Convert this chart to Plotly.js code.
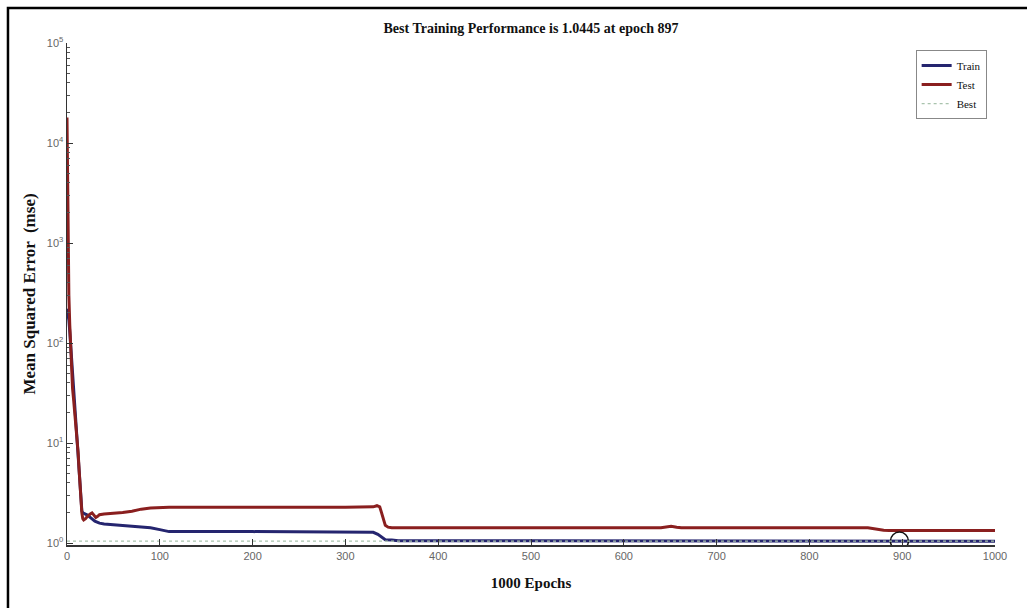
<!DOCTYPE html>
<html>
<head>
<meta charset="utf-8">
<script src="https://cdn.plot.ly/plotly-3.0.1.min.js"></script>
<style>html,body{margin:0;padding:0;background:#fff;}#chart{width:1027px;height:608px;}</style>
</head>
<body>
<div id="chart"></div>
<script>
// Train performance (mse) per epoch
const trainEpochs = [0,1,2,3,4,5,6,7,8,9,10,11,12,13,14,15,16,17,18,20,22,25,28,30,35,40,50,60,70,80,90,100,105,110,200,300,326,330,335,340,343,350,357,500,700,704,800,897,1000];
const trainValues = [220,200,170,130,95,60,42,31,24,19,15,11,8,6,4,2.8,2.1,2.0,1.98,1.95,1.9,1.8,1.7,1.65,1.58,1.55,1.52,1.5,1.48,1.46,1.42,1.36,1.33,1.3,1.3,1.3,1.3,1.28,1.22,1.12,1.08,1.07,1.055,1.055,1.055,1.045,1.045,1.0445,1.044];

// Test performance (mse) per epoch
const testEpochs = [0,1,2,3,4,5,6,7,8,9,10,11,12,13,14,15,16,17,18,20,22,25,27,29,31,33,35,40,50,60,70,80,90,100,110,300,330,334,337,339,341,343,346,350,640,645,651,657,662,863,870,880,886,1000];
const testValues = [18000,1500,300,150,90,45,35,28,22,18,14,11,8,5.5,3.8,2.6,2.0,1.75,1.7,1.75,1.85,1.95,2.0,1.9,1.8,1.85,1.92,1.95,1.98,2.02,2.08,2.18,2.24,2.27,2.28,2.28,2.3,2.36,2.3,2.0,1.7,1.5,1.44,1.42,1.42,1.44,1.47,1.44,1.42,1.42,1.38,1.34,1.33,1.33];

// Best point
const bestEpoch = 897;
const bestValue = 1.0445;
const bestLineEpochs = [0, 1000];

// Tick labels
const xTickVals = [0,100,200,300,400,500,600,700,800,900,1000];
const yTickVals = [1,10,100,1000,10000,100000];
const yTickText = ['10<sup>0</sup>','10<sup>1</sup>','10<sup>2</sup>','10<sup>3</sup>','10<sup>4</sup>','10<sup>5</sup>'];
const yMinorTickVals = [2,3,4,5,6,7,8,9,20,30,40,50,60,70,80,90,200,300,400,500,600,700,800,900,2000,3000,4000,5000,6000,7000,8000,9000,20000,30000,40000,50000,60000,70000,80000,90000];

const titleText = 'Best Training Performance is 1.0445 at epoch 897';
const xTitle = '1000 Epochs';
const yTitle = 'Mean Squared Error  (mse)';

const serif = '"Liberation Serif", "Times New Roman", serif';
const sans = '"Liberation Sans", Arial, sans-serif';

const traces = [
  {x: trainEpochs, y: trainValues, name: 'Train', mode: 'lines',
   line: {color: '#25256f', width: 3}},
  {x: testEpochs, y: testValues, name: 'Test', mode: 'lines',
   line: {color: '#8a1f1f', width: 3}},
  {x: bestLineEpochs, y: [bestValue, bestValue], name: 'Best', mode: 'lines', yaxis: 'y2',
   line: {color: '#a9c3ad', width: 1.2, dash: 'dot'}},
  {x: [bestEpoch], y: [bestValue], mode: 'markers', showlegend: false,
   marker: {symbol: 'circle-open', size: 18, color: '#111', line: {width: 1.5, color: '#111'}}}
];

const layout = {
  width: 1027, height: 608,
  margin: {l: 67, r: 32, t: 43, b: 63, pad: 0},
  paper_bgcolor: '#fff', plot_bgcolor: '#fff',
  showlegend: true,
  title: {text: '<b>' + titleText + '</b>', x: 0.5, xref: 'paper', xanchor: 'center',
          y: 1 - 28/608, yref: 'container', yanchor: 'middle',
          font: {family: serif, size: 14, color: '#111'}},
  xaxis: {range: [0, 1000], tickvals: xTickVals, ticks: 'inside', ticklen: 6, tickwidth: 1,
          tickcolor: '#333', showline: true, linecolor: '#333', linewidth: 1.5,
          showgrid: false, zeroline: false, mirror: false,
          tickfont: {family: sans, size: 11, color: '#666'},
          title: {text: '<b>' + xTitle + '</b>', standoff: 17,
                  font: {family: serif, size: 15, color: '#111'}}},
  yaxis: {type: 'log', range: [-0.02, 5], tickvals: yTickVals, ticktext: yTickText,
          ticks: 'inside', ticklen: 6, tickwidth: 1, tickcolor: '#333',
          showline: true, linecolor: '#333', linewidth: 1.5,
          showgrid: false, zeroline: false,
          tickfont: {family: sans, size: 11, color: '#666'},
          title: {text: '<b>' + yTitle + '</b>', standoff: 7,
                  font: {family: serif, size: 17, color: '#111'}}},
  yaxis2: {type: 'log', range: [-0.02, 5], overlaying: 'y', side: 'left',
           tickvals: yMinorTickVals, ticks: 'inside', ticklen: 3, tickwidth: 1, tickcolor: '#555',
           showticklabels: false, showline: false, showgrid: false, zeroline: false},
  legend: {x: 0.991, xanchor: 'right', y: 0.986, yanchor: 'top',
           bordercolor: '#888', borderwidth: 1, bgcolor: '#fff',
           font: {family: serif, size: 11, color: '#111'},
           tracegroupgap: 0, itemwidth: 30},
  shapes: [
    {type: 'rect', xref: 'paper', yref: 'paper', x0: -0.0636, x1: 1.2, y0: -0.3, y1: 1.0697,
     line: {color: '#000', width: 2.5}, fillcolor: 'rgba(0,0,0,0)', layer: 'below'}
  ]
};

Plotly.newPlot('chart', traces, layout, {displayModeBar: false, staticPlot: true});
</script>
</body>
</html>
